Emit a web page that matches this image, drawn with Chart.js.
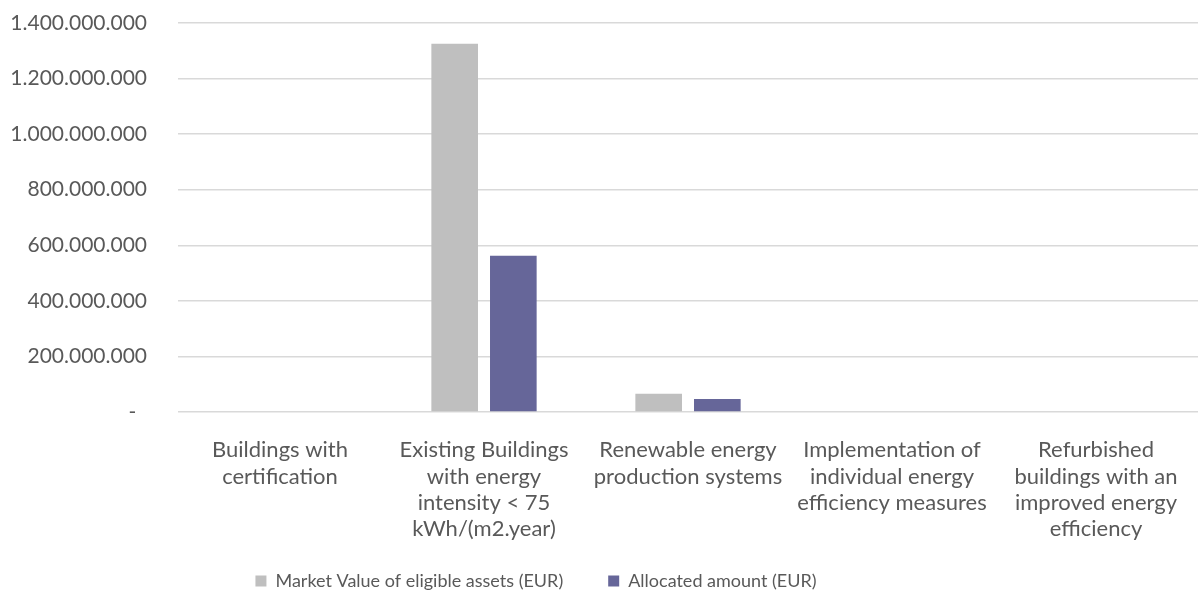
<!DOCTYPE html>
<html lang="en">
  <head>
    <meta charset="UTF-8" />
    <script src="https://cdn.jsdelivr.net/npm/chart.js"></script>
    <title>Eligible assets</title>
    <style>
      html, body { margin: 0; padding: 0; background: #fff; }
      #box { width: 1198px; height: 596px; }
    </style>
  </head>
  <body>
    <div id="box"><canvas id="grafico"></canvas></div>

    <script>
      // categories (line breaks as in the original)
      const categorias = [
        ["Buildings with", "certification"],
        ["Existing Buildings", "with energy", "intensity < 75", "kWh/(m2.year)"],
        ["Renewable energy", "production systems"],
        ["Implementation of", "individual energy", "efficiency measures"],
        ["Refurbished", "buildings with an", "improved energy", "efficiency"],
      ];
      const valorMercado = [0, 1325000000, 66000000, 0, 0];
      const valorAlocado = [0, 562000000, 47000000, 0, 0];
      const nomesSeries = ["Market Value of eligible assets (EUR)", "Allocated amount (EUR)"];
      const yMin = 0;
      const yMax = 1400000000;
      const yPasso = 200000000;

      const cinzaTexto = "#595959";

      // 1400000000 -> 1.400.000.000 ; 0 -> "-"
      const formata = (v) => {
        if (v === 0) return "-  ";
        return String(Math.round(v)).replace(/\B(?=(\d{3})+(?!\d))/g, ".");
      };

      // puxa a legenda um pouco para cima e para a esquerda, como no original
      const moveLegenda = {
        id: "moveLegenda",
        afterLayout(chart) {
          const leg = chart.legend;
          leg.top -= 15;
          leg.bottom -= 15;
          leg.left -= 63;
          leg.right -= 63;
        },
      };

      const ctx = document.getElementById("grafico");
      new Chart(ctx, {
        type: "bar",
        data: {
          labels: categorias,
          datasets: [
            {
              label: nomesSeries[0],
              data: valorMercado,
              backgroundColor: "#BFBFBF",
              categoryPercentage: 0.575,
              barPercentage: 0.795,
            },
            {
              label: nomesSeries[1],
              data: valorAlocado,
              backgroundColor: "#666699",
              categoryPercentage: 0.575,
              barPercentage: 0.795,
            },
          ],
        },
        plugins: [moveLegenda],
        options: {
          responsive: true,
          maintainAspectRatio: false,
          animation: false,
          layout: { padding: { top: 23, right: 0, bottom: -19, left: 0 } },
          plugins: {
            tooltip: { enabled: false },
            legend: {
              position: "bottom",
              labels: {
                color: cinzaTexto,
                font: { family: "Lato", size: 18 },
                boxWidth: 11,
                boxHeight: 11,
                padding: 45,
              },
            },
          },
          scales: {
            x: {
              grid: { display: false },
              border: { display: false },
              ticks: {
                color: cinzaTexto,
                font: { family: "Lato", size: 22, lineHeight: 1.2 },
                padding: 17,
                maxRotation: 0,
                autoSkip: false,
              },
              afterFit: (eixo) => { eixo.height = 130; },
            },
            y: {
              min: yMin,
              max: yMax,
              grid: { color: "#D9D9D9", lineWidth: 1.5, drawTicks: false },
              border: { display: false },
              ticks: {
                stepSize: yPasso,
                color: cinzaTexto,
                font: { family: "Lato", size: 21 },
                padding: 31,
                callback: (v) => formata(v),
              },
              afterFit: (eixo) => {
                eixo.width = 178;
                eixo.paddingTop = 0;
                eixo.paddingBottom = 0;
              },
            },
          },
        },
      });
    </script>
  </body>
</html>
